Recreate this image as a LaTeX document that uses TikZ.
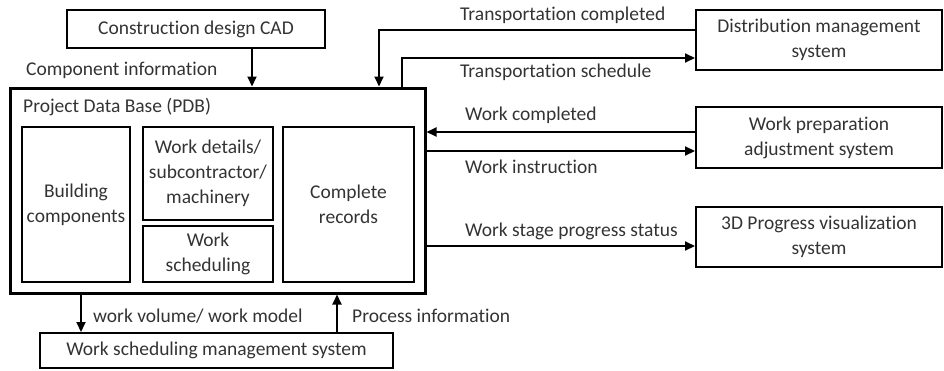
\documentclass[tikz,border=0pt]{standalone}
\usepackage{fontspec}
\setmainfont{Carlito}[Ligatures={NoCommon}]
\usetikzlibrary{arrows.meta}
\begin{document}
\begin{tikzpicture}[x=1pt,y=-1pt,
  every node/.style={font=\fontsize{19.5}{25}\selectfont, text=black!80, inner sep=0pt},
  box/.style={draw=black, line width=2pt, align=center, text=black!80},
  arr/.style={line width=2pt, -{Triangle[length=10pt,width=9pt]}},
  lbl/.style={anchor=west}]
\useasboundingbox (0,0) rectangle (944,370);
% nodes
\node[box, minimum width=258pt, minimum height=38pt] (cad) at (196,29) {Construction design CAD};
\node[box, line width=3pt, minimum width=415pt, minimum height=205pt] (pdb) at (217.5,190.5) {};
\node[lbl] (pdbt) at (23,107) {Project Data Base (PDB)};
\node[box, minimum width=108pt, minimum height=155pt] (bc) at (76,204.5) {Building\\components};
\node[box, minimum width=130pt, minimum height=93pt] (wd) at (208,173.5) {Work details/\\subcontractor/\\machinery};
\node[box, minimum width=130pt, minimum height=56pt] (ws) at (208,254) {Work\\scheduling};
\node[box, minimum width=131pt, minimum height=155pt] (cr) at (348.5,204.5) {Complete\\records};
\node[box, minimum width=246pt, minimum height=60pt] (dist) at (819,40) {Distribution management\\system};
\node[box, minimum width=246pt, minimum height=61pt] (wp) at (819,137.5) {Work preparation\\adjustment system};
\node[box, minimum width=246pt, minimum height=60pt] (vis) at (819,237) {3D Progress visualization\\system};
\node[box, minimum width=353pt, minimum height=35pt] (wsm) at (216.5,350.5) {Work scheduling management system};
% connectors
\draw[arr] ([xshift=56pt]cad.south) -- ([xshift=56pt]cad.south |- pdb.north);
\draw[arr] ([yshift=10pt]dist.west) -| ([xshift=161.5pt]pdb.north);
\draw[arr] ([xshift=184.5pt]pdb.north) |- ([yshift=-18pt]dist.west);
\coordinate (wc) at ([yshift=5.5pt]wp.west);
\coordinate (wi) at ([yshift=-13.5pt]wp.west);
\coordinate (st) at ([yshift=-9pt]vis.west);
\draw[arr] (wc) -- (wc -| pdb.east);
\draw[arr] (wi -| pdb.east) -- (wi);
\draw[arr] (st -| pdb.east) -- (st);
\draw[arr] ([xshift=-136.5pt]pdb.south) -- ([xshift=-136.5pt]pdb.south |- wsm.north);
\draw[arr] ([xshift=119.5pt]pdb.south |- wsm.north) -- ([xshift=119.5pt]pdb.south);
% labels
\node[lbl] (l1) at (26,70) {Component information};
\node[lbl] (l2) at (460,15) {Transportation completed};
\node[lbl] (l3) at (460,72) {Transportation schedule};
\node[lbl] (l4) at (465,115) {Work completed};
\node[lbl] (l5) at (465,167) {Work instruction};
\node[lbl] (l6) at (465,231) {Work stage progress status};
\node[lbl] (l7) at (93,316) {work volume/ work model};
\node[lbl] (l8) at (352,316) {Process information};
\end{tikzpicture}
\end{document}
